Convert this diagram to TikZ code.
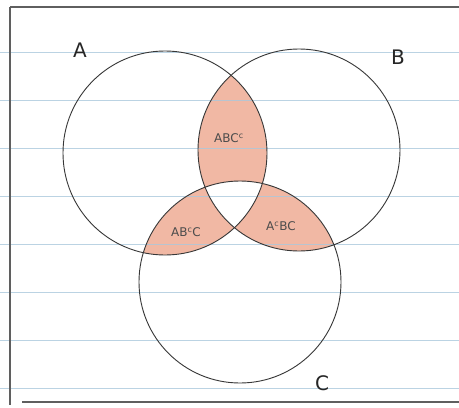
\documentclass[tikz,border=0pt]{standalone}
\usepackage{fontspec}
\setmainfont{DejaVu Sans}
\definecolor{salmon}{RGB}{241,184,164}
\definecolor{ruled}{RGB}{170,200,220}
\definecolor{pen}{RGB}{55,55,55}
\begin{document}
\begin{tikzpicture}[x=1pt,y=-1pt,
  ruleline/.style={ruled,line width=1pt},
  border/.style={pen!80,line width=1.3pt},
  circ/.style={pen,line width=0.9pt},
  setlabel/.style={font=\fontsize{20}{20}\selectfont,text=black!85},
  regionlabel/.style={font=\fontsize{12}{12}\selectfont,text=black!70,inner sep=0pt}]
\useasboundingbox (0,0) rectangle (459,408);
\fill[white] (0,0) rectangle (459,408);
% fills
\begin{scope}
  \clip (165,153) circle (102);
  \clip (299,150) circle (101);
  \fill[salmon,even odd rule] (0,0) rectangle (459,408) (240,282) circle (101);
\end{scope}
\begin{scope}
  \clip (165,153) circle (102);
  \clip (240,282) circle (101);
  \fill[salmon,even odd rule] (0,0) rectangle (459,408) (299,150) circle (101);
\end{scope}
\begin{scope}
  \clip (299,150) circle (101);
  \clip (240,282) circle (101);
  \fill[salmon,even odd rule] (0,0) rectangle (459,408) (165,153) circle (102);
\end{scope}
% ruled lines
\foreach \y in {52,100,148,196,244,292,340,388}
  \draw[ruleline,opacity=0.8] (0,\y) -- (459,\y);
% border lines
\draw[border] (10,7) -- (459,7);
\draw[border] (10,7) -- (10,405);
\draw[border] (22,402) -- (459,402);
% circles
\draw[circ] (165,153) circle (102);
\draw[circ] (299,150) circle (101);
\draw[circ] (240,282) circle (101);
% labels
\node[setlabel] (la) at (80,50) {A};
\node[setlabel] (lb) at (398,57) {B};
\node[setlabel] (lc) at (322,383) {C};
\node[regionlabel] (abc) at (229,138) {ABC$^{\mathrm{c}}$};
\node[regionlabel] (abcc) at (186,232) {AB$^{\mathrm{c}}$C};
\node[regionlabel] (acbc) at (281,226) {A$^{\mathrm{c}}$BC};
\end{tikzpicture}
\end{document}
